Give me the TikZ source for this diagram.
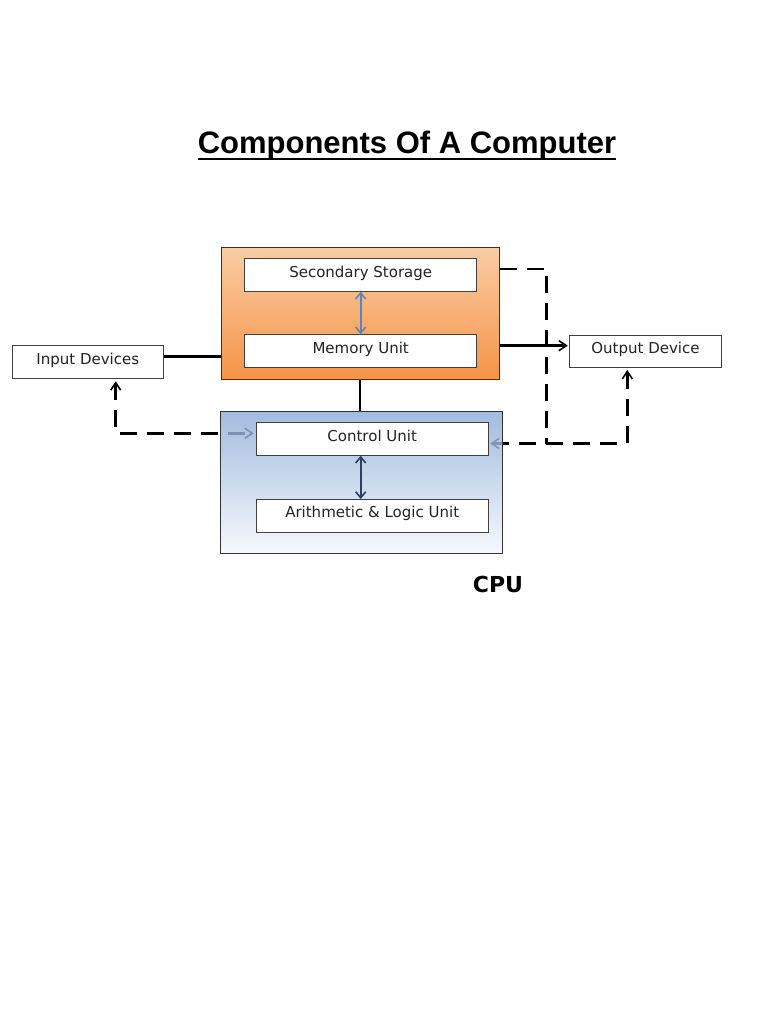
\documentclass[tikz,border=0pt]{standalone}
\usepackage{fontspec}
\setmainfont{DejaVu Sans}
\newfontfamily\titlefont{Liberation Sans}
\usetikzlibrary{arrows.meta,calc,backgrounds}
\definecolor{orangetop}{RGB}{250,204,165}
\definecolor{orangebot}{RGB}{245,148,72}
\definecolor{bluetop}{RGB}{140,171,214}
\definecolor{bluebot}{RGB}{244,247,252}
\definecolor{arrblue}{RGB}{100,130,180}
\definecolor{arrnavy}{RGB}{45,62,95}
\definecolor{txt}{RGB}{35,35,35}
\tikzset{
  barb/.tip={Straight Barb[length=7.5pt,width=10pt,line width=1.6pt]},
  ibarb/.tip={Straight Barb[length=6pt,width=10pt,line width=1.6pt]},
  unitbox/.style={draw=black!75, line width=0.9pt, fill=white, inner sep=0pt,
    minimum width=232pt, minimum height=32.5pt, text height=11pt, text depth=7pt,
    font=\fontsize{15}{18}\selectfont, text=txt},
  conn/.style={line width=2.5pt, black},
  dconn/.style={conn, dash pattern=on 17pt off 10pt},
  inarrow/.style={line width=2.2pt, ibarb-ibarb},
}
\begin{document}
\begin{tikzpicture}[x=1pt,y=-1pt]
\useasboundingbox (0,0) rectangle (768,1024);
% title
\node[inner sep=0pt, anchor=base, font=\titlefont\bfseries\fontsize{31}{37}\selectfont] (title) at (407,154) {Components Of A Computer};
\draw[line width=2pt] ($(title.base west)+(0,5)$) -- ($(title.base east)+(0,5)$);
% containers
\node[draw=black!80, line width=0.9pt, shade, top color=orangetop, bottom color=orangebot,
      minimum width=278pt, minimum height=131.7pt, inner sep=0pt] (mem) at (360.2,313.2) {};
\node[draw=black!80, line width=0.9pt, shade, top color=bluetop, bottom color=bluebot,
      fill opacity=0.8, draw opacity=1,
      minimum width=282pt, minimum height=141.6pt, inner sep=0pt] (cpu) at (361.7,482.5) {};
% units
\node[unitbox] (ss) at (360.7,275) {Secondary Storage};
\node[unitbox] (mu) at (360.7,351) {Memory Unit};
\node[unitbox] (cu) at (372.2,439) {Control Unit};
\node[unitbox] (alu) at (372.2,515.7) {Arithmetic \& Logic Unit};
\node[unitbox, minimum width=151pt, minimum height=33pt] (ind) at (87.8,362.3) {Input Devices};
\node[unitbox, minimum width=151.5pt, minimum height=32pt] (out) at (645.5,351) {Output Device};
% CPU label
\node[inner sep=0pt, anchor=base, font=\bfseries\fontsize{22}{26}\selectfont] (cpulabel) at (498,592.7) {CPU};
% junction coordinates
\coordinate (jl) at (115.7,433.3);
\coordinate (j1) at (546.3,269);
\coordinate (j2) at (546.3,443.5);
\coordinate (j3) at (627.3,443.5);
% dashed connectors (behind boxes)
\begin{pgfonlayer}{background}
\draw[dconn, barb-barb, shorten <=2pt, shorten >=2pt] (ind.south -| jl) -- (jl) -- (cu.west |- jl);
\draw[dconn] (mem.east |- j1) -- (j1) -- (j2);
\draw[dconn, barb-barb, shorten <=1.5pt, shorten >=2.5pt] (cu.east |- j2) -- (j3) -- (out.south -| j3);
\end{pgfonlayer}
% solid connectors
\draw[conn] (ind.east |- 0,356.7) -- (mem.west |- 0,356.7);
\draw[conn, -barb, shorten >=1.5pt] (mem.east |- 0,345.7) -- (out.west |- 0,345.7);
\draw[conn] (mem.south -| 360,0) -- (cpu.north -| 360,0);
% internal arrows
\draw[inarrow, arrblue] (ss.south) -- (mu.north);
\draw[inarrow, arrnavy] (cu.south -| 360.7,0) -- (alu.north -| 360.7,0);
\end{tikzpicture}
\end{document}
